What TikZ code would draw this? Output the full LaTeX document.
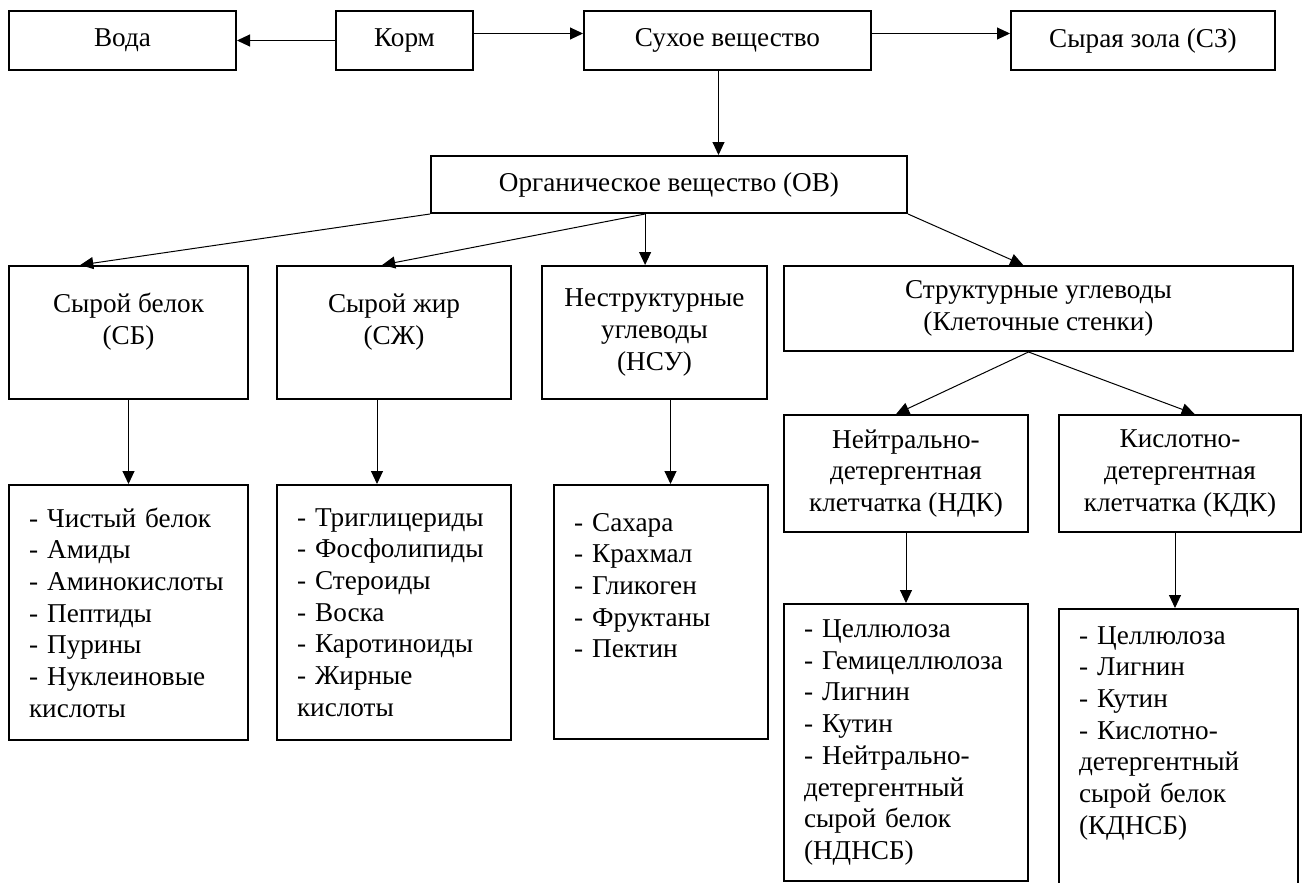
\documentclass[tikz,border=0pt]{standalone}
\usepackage{fontspec}
\setmainfont{Liberation Serif}
\usetikzlibrary{arrows.meta,calc}

\tikzset{
  box/.style={draw, line width=2pt, anchor=north west, align=center, inner sep=0pt,
    font=\fontsize{27.2}{31.7}\selectfont},
  listbox/.style={box, align=left, inner xsep=20pt},
  arr/.style={-{Triangle[length=13pt,width=12pt]}, line width=1pt},
}

\begin{document}
\begin{tikzpicture}[x=1pt, y=-1pt]
    \useasboundingbox (0,0) rectangle (1304,883);

    % Top row
    \node[box, minimum width=227pt, minimum height=59pt] (voda) at (8,10) {Вода};
    \node[box, minimum width=137pt, minimum height=59pt] (korm) at (335,10) {Корм};
    \node[box, minimum width=287pt, minimum height=59pt] (sv) at (583,10) {Сухое вещество};
    \node[box, minimum width=264pt, minimum height=59pt] (sz) at (1010,10) {Сырая зола (СЗ)};
    \node[box, minimum width=476pt, minimum height=57pt] (ov) at (430,155) {Органическое вещество (ОВ)};

    % Groups
    \node[box, minimum width=239pt, text height=78pt, text depth=55pt] (sb) at (8,265) {Сырой белок\\(СБ)};
    \node[box, minimum width=234pt, text height=78pt, text depth=55pt] (szh) at (276,265) {Сырой жир\\(СЖ)};
    \node[box, minimum width=225pt, minimum height=133pt] (nsu) at (541,265) {Неструктурные\\углеводы\\(НСУ)};
    \node[box, minimum width=509pt, minimum height=85pt] (su) at (783,265) {Структурные углеводы\\(Клеточные стенки)};
    \node[box, minimum width=244pt, minimum height=117pt] (ndk) at (783,414) {Нейтрально-\\детергентная\\клетчатка (НДК)};
    \node[box, minimum width=242pt, minimum height=117pt] (kdk) at (1058,414) {Кислотно-\\детергентная\\клетчатка (КДК)};

    % Lists
    \node[listbox, text width=199pt, minimum height=255pt] (sblist) at (8,484)
        {- Чистый белок\\- Амиды\\- Аминокислоты\\- Пептиды\\- Пурины\\- Нуклеиновые\\кислоты};
    \node[listbox, text width=194pt, minimum height=255pt] (szhlist) at (276,484)
        {- Триглицериды\\- Фосфолипиды\\- Стероиды\\- Воска\\- Каротиноиды\\- Жирные\\кислоты};
    \node[listbox, text width=174pt, text height=46pt, text depth=208pt] (nsulist) at (553,484)
        {- Сахара\\- Крахмал\\- Гликоген\\- Фруктаны\\- Пектин};
    \node[listbox, text width=204pt, minimum height=277pt] (ndklist) at (783,603)
        {- Целлюлоза\\- Гемицеллюлоза\\- Лигнин\\- Кутин\\- Нейтрально-\\детергентный\\сырой белок\\(НДНСБ)};
    \node[listbox, text width=199pt, text height=35pt, text depth=282pt] (kdklist) at (1058,608)
        {- Целлюлоза\\- Лигнин\\- Кутин\\- Кислотно-\\детергентный\\сырой белок\\(КДНСБ)};

    % Arrows
    \draw[arr] (korm.west) -- (voda.east);
    \draw[arr] ([yshift=7pt]korm.east) -- ([yshift=7pt]sv.west);
    \draw[arr] ([yshift=7pt]sv.east) -- ([yshift=7pt]sz.west);
    \draw[arr] ([xshift=-9pt]sv.south) -- ([xshift=-9pt]sv.south |- ov.north);

    \coordinate (ovfork) at ($(ov.south west)!.45!(ov.south east)$);
    \draw[arr] (ov.south west) -- ($(sb.north west)!.3!(sb.north east)$);
    \draw[arr] (ovfork) -- ($(szh.north west)!.45!(szh.north east)$);
    \draw[arr] (ovfork) -- (ovfork |- nsu.north);
    \draw[arr] (ov.south east) -- ($(su.north west)!.47!(su.north east)$);

    \draw[arr] (sb.south) -- (sblist.north);
    \draw[arr] ([xshift=-17pt]szh.south) -- ([xshift=-17pt]szh.south |- szhlist.north);
    \draw[arr] ([xshift=16pt]nsu.south) -- ([xshift=16pt]nsu.south |- nsulist.north);

    \coordinate (sufork) at ([xshift=-10pt]su.south);
    \draw[arr] (sufork) -- ($(ndk.north west)!.46!(ndk.north east)$);
    \draw[arr] (sufork) -- ($(kdk.north west)!.56!(kdk.north east)$);
    \draw[arr] (ndk.south) -- (ndk.south |- ndklist.north);
    \draw[arr] ([xshift=-5pt]kdk.south) -- ([xshift=-5pt]kdk.south |- kdklist.north);
\end{tikzpicture}
\end{document}
